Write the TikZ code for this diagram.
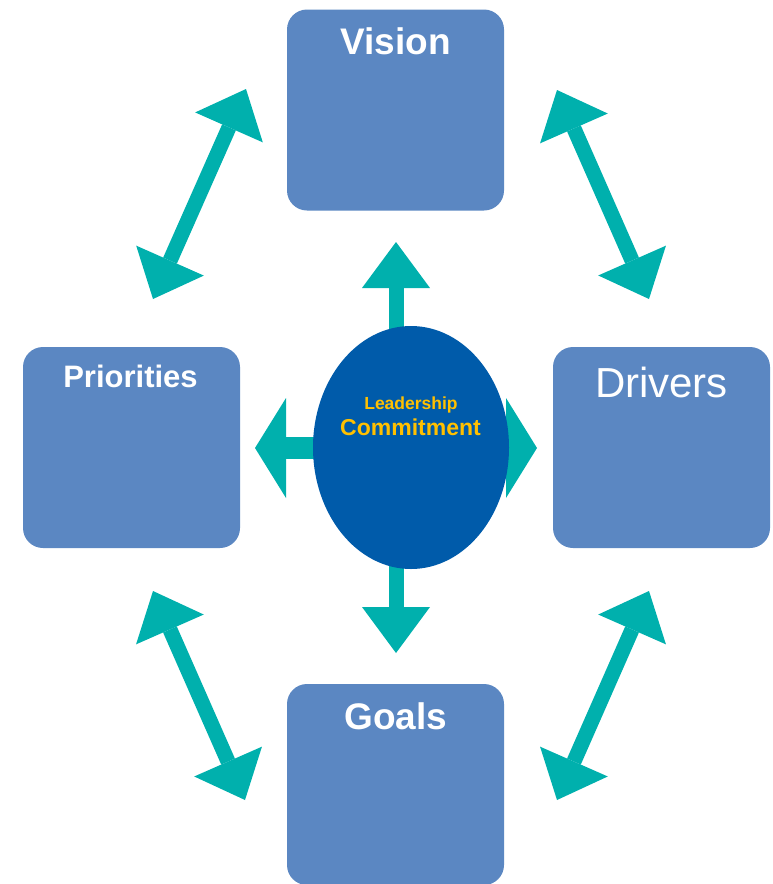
\documentclass[tikz,border=0pt]{standalone}
\usepackage{fontspec}
\setmainfont{Liberation Sans}
\usetikzlibrary{arrows.meta,shapes.geometric,backgrounds}

\definecolor{boxblue}{RGB}{91,135,194}
\definecolor{coreblue}{RGB}{0,91,170}
\definecolor{arrowteal}{RGB}{0,176,173}
\definecolor{commitgold}{RGB}{255,192,0}

\newcommand\titlestyle{\bfseries\fontsize{37}{40}\selectfont}
\newcommand\smalltitlestyle{\bfseries\fontsize{31}{34}\selectfont}
\newcommand\plaintitlestyle{\fontsize{42}{46}\selectfont}
\newcommand\leaderstyle{\bfseries\fontsize{17.5}{20}\selectfont}
\newcommand\commitstyle{\bfseries\fontsize{23}{26}\selectfont}

\tikzset{
  conceptbox/.style={fill=boxblue, rounded corners=20pt, minimum width=217pt,
    minimum height=201pt, inner sep=0pt},
  boxtitle/.style={anchor=base, text=white, inner sep=0pt},
  core/.style={ellipse, fill=coreblue, minimum width=196pt, minimum height=243pt,
    inner sep=0pt},
  coretext/.style={anchor=base, text=commitgold, inner sep=0pt},
  twoway/.style={draw=arrowteal, line width=15pt,
    >={Triangle[length=42pt,width=74pt,line width=0pt]}, <->},
  vertout/.style={draw=arrowteal, line width=15pt,
    -{Triangle[length=46pt,width=68pt,line width=0pt]}},
  horizout/.style={draw=arrowteal, line width=22pt,
    -{Triangle[length=31pt,width=100pt,line width=0pt]}},
}

\begin{document}
\begin{tikzpicture}[x=1pt,y=-1pt]
  \useasboundingbox (0,0) rectangle (773,884);

  % the four boxes
  \node[conceptbox] (vision) at (395.5,110) {};
  \node[conceptbox] (priorities) at (131.5,447.5) {};
  \node[conceptbox] (drivers) at (661.5,447.5) {};
  \node[conceptbox] (goals) at (395.5,784.5) {};
  \node[boxtitle] (visiontitle) at (395.5,54) {\titlestyle Vision};
  \node[boxtitle] (prioritiestitle) at (130.5,387) {\smalltitlestyle Priorities};
  \node[boxtitle] (driverstitle) at (661.5,397) {\plaintitlestyle Drivers};
  \node[boxtitle] (goalstitle) at (396,729) {\titlestyle Goals};

  % centre
  \node[core] (core) at (411,447.5) {};
  \node[coretext] (leader) at (411,409) {\leaderstyle Leadership};
  \node[coretext] (commit) at (410.5,435) {\commitstyle Commitment};

  \coordinate (uptip) at (396,242);
  \coordinate (downtip) at (396,653);
  \coordinate (lefttip) at (255,448);
  \coordinate (righttip) at (537,448);
  \begin{pgfonlayer}{background}
    \draw[vertout] (core.center -| uptip) -- (uptip);
    \draw[vertout] (core.center -| downtip) -- (downtip);
    \draw[horizout] (core.center |- lefttip) -- (lefttip);
    \draw[horizout] (core.center |- righttip) -- (righttip);
  \end{pgfonlayer}

  % links between the boxes
  \coordinate (vp1) at (246,89);
  \coordinate (vp2) at (153,299);
  \coordinate (vd1) at (557,90);
  \coordinate (vd2) at (649,299);
  \coordinate (pg1) at (153,591);
  \coordinate (pg2) at (245,800);
  \coordinate (dg1) at (649,591);
  \coordinate (dg2) at (557,800);
  \draw[twoway] (vp1) -- (vp2);
  \draw[twoway] (vd1) -- (vd2);
  \draw[twoway] (pg1) -- (pg2);
  \draw[twoway] (dg1) -- (dg2);
\end{tikzpicture}
\end{document}
